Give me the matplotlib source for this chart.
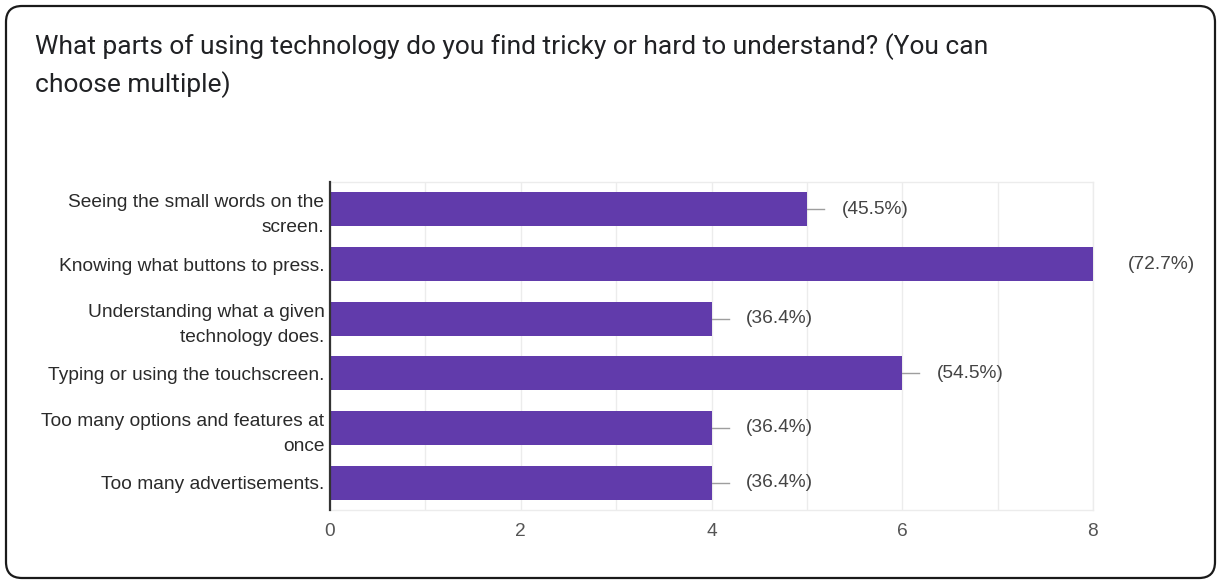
import matplotlib
matplotlib.use("Agg")
import matplotlib.pyplot as plt
from matplotlib.patches import FancyBboxPatch

title_lines = [
    "What parts of using technology do you find tricky or hard to understand? (You can",
    "choose multiple)",
]
answers = [
    "Seeing the small words on the\nscreen.",
    "Knowing what buttons to press.",
    "Understanding what a given\ntechnology does.",
    "Typing or using the touchscreen.",
    "Too many options and features at\nonce",
    "Too many advertisements.",
]
counts = [5, 8, 4, 6, 4, 4]
percents = ["45.5%", "72.7%", "36.4%", "54.5%", "36.4%", "36.4%"]

W, H = 1221, 580
bar_color = "#613bab"
label_size = 13.8

fig = plt.figure(figsize=(W / 100, H / 100), dpi=100)

# card background with rounded border, drawn in pixel units
bg = fig.add_axes([0, 0, 1, 1])
bg.set_xlim(0, W)
bg.set_ylim(H, 0)
bg.axis("off")
bg.add_patch(FancyBboxPatch((6, 6), W - 12, H - 8,
                            boxstyle="round,pad=0,rounding_size=16",
                            facecolor="white", edgecolor="#1a1a1a", linewidth=1.6))
for y, line in zip([47, 85], title_lines):
    bg.text(35, y, line, fontsize=19, family="Roboto", color="#202124",
            va="center", ha="left")

# plot area
left, right, top, bottom = 330, 1093, 182, 510
ax = fig.add_axes([left / W, 1 - bottom / H, (right - left) / W, (bottom - top) / H])
ax.set_facecolor("none")

pos = list(range(len(answers)))
ax.barh(pos, counts, height=0.62, color=bar_color, zorder=3)
for p, c, lab in zip(pos, counts, percents):
    ax.plot([c, c + 0.18], [p, p], color="#9e9e9e", linewidth=1, zorder=2)
    ax.annotate(f"({lab})", (c, p), xytext=(25, 0), textcoords="offset points",
                va="center", ha="left", fontsize=label_size, family="Liberation Sans",
                color="#444444", annotation_clip=False)

ax.set_xlim(0, 8)
ax.set_ylim(len(answers) - 0.5, -0.5)
ax.set_xticks([0, 2, 4, 6, 8])
ax.set_xticks([1, 3, 5, 7], minor=True)
ax.set_yticks(pos)
ax.set_yticklabels(answers, fontsize=label_size, family="Liberation Sans", color="#2a2a2a",
                   linespacing=1.62)
for t in ax.get_xticklabels():
    t.set_fontsize(label_size)
    t.set_family("Liberation Sans")
    t.set_color("#555555")
ax.tick_params(axis="both", which="both", length=0)
ax.tick_params(axis="x", pad=9)
ax.tick_params(axis="y", pad=4)
ax.grid(axis="x", which="both", color="#ececec", linewidth=1, zorder=0)

for s in ["top", "right", "bottom"]:
    ax.spines[s].set_color("#ececec")
    ax.spines[s].set_linewidth(1)
ax.spines["left"].set_color("#333333")
ax.spines["left"].set_linewidth(1.6)
ax.spines["left"].set_zorder(4)

fig.savefig("out.png", dpi=100)
